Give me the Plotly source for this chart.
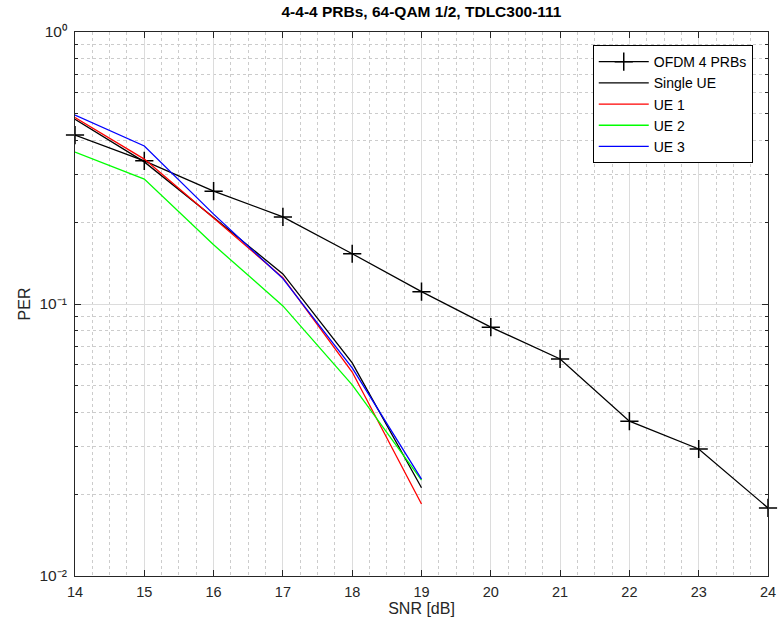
import plotly.graph_objects as go

# SNR grid (dB)
snr_ofdm = [14, 15, 16, 17, 18, 19, 20, 21, 22, 23, 24]
snr_ue = [14, 15, 16, 17, 18, 19]

# Packet error rates
per_ofdm = [0.418, 0.336, 0.260, 0.209, 0.153, 0.111, 0.0822, 0.0628, 0.0371, 0.0293, 0.0178]
per_single = [0.478, 0.333, 0.208, 0.129, 0.0607, 0.0211]
per_ue1 = [0.485, 0.341, 0.207, 0.125, 0.0562, 0.0184]
per_ue2 = [0.362, 0.288, 0.165, 0.0984, 0.0504, 0.0225]
per_ue3 = [0.495, 0.381, 0.214, 0.124, 0.0582, 0.0227]

x_ticks = list(range(14, 25))
y_tickvals = [0.01, 0.1, 1]
y_ticktext = ["10\u207b\u00b2", "10\u207b\u00b9", "10\u2070"]

font = "Liberation Sans, Arial, Helvetica, sans-serif"

fig = go.Figure()
fig.add_trace(go.Scatter(
    x=snr_ofdm, y=per_ofdm, name="OFDM 4 PRBs", mode="lines+markers",
    line=dict(color="black", width=1.3),
    marker=dict(symbol="cross-thin-open", size=13, color="black",
                line=dict(color="black", width=1.5)),
    cliponaxis=False,
))
fig.add_trace(go.Scatter(x=snr_ue, y=per_single, name="Single UE", mode="lines",
                         line=dict(color="black", width=1.3)))
fig.add_trace(go.Scatter(x=snr_ue, y=per_ue1, name="UE 1", mode="lines",
                         line=dict(color="#ff0000", width=1.3)))
fig.add_trace(go.Scatter(x=snr_ue, y=per_ue2, name="UE 2", mode="lines",
                         line=dict(color="#00ff00", width=1.3)))
fig.add_trace(go.Scatter(x=snr_ue, y=per_ue3, name="UE 3", mode="lines",
                         line=dict(color="#0000ff", width=1.3)))

fig.update_layout(
    width=780, height=628,
    margin=dict(l=75, r=12, t=32, b=52, autoexpand=False),
    paper_bgcolor="white", plot_bgcolor="white",
    font=dict(family=font, size=14, color="#262626"),
    title=dict(text="4-4-4 PRBs, 64-QAM 1/2, TDLC300-111",
               x=0.5, xref="paper", y=1, yref="container", yanchor="top",
               pad=dict(t=6), font=dict(size=15.5, color="black", weight="bold")),
    showlegend=True,
    legend=dict(x=0.978, y=0.976, xanchor="right", yanchor="top",
                bgcolor="white", bordercolor="black", borderwidth=1,
                font=dict(size=14, color="black"),
                tracegroupgap=0, itemwidth=50),
    xaxis=dict(
        range=[14, 24], tickmode="array", tickvals=x_ticks,
        tickfont=dict(size=14.5),
        ticklabelstandoff=3,
        title=dict(text="SNR [dB]", font=dict(size=16), standoff=2),
        showline=True, linecolor="#262626", linewidth=1, mirror="ticks",
        ticks="inside", ticklen=6, tickcolor="#262626",
        showgrid=True, gridcolor="#dcdcdc", gridwidth=1,
        minor=dict(dtick=0.25, showgrid=True, gridcolor="#cccccc",
                   griddash="dot", ticks=""),
        zeroline=False,
    ),
    yaxis=dict(
        type="log", range=[-2, 0],
        tickmode="array", tickvals=y_tickvals, ticktext=y_ticktext,
        tickfont=dict(size=15.5),
        ticklabelstandoff=4,
        title=dict(text="PER", font=dict(size=16), standoff=4),
        showline=True, linecolor="#262626", linewidth=1, mirror="ticks",
        ticks="inside", ticklen=6, tickcolor="#262626",
        showgrid=True, gridcolor="#dcdcdc", gridwidth=1,
        minor=dict(tickmode="array",
                   tickvals=[m * 10 ** e for e in (-2, -1) for m in range(2, 10)],
                   showgrid=True, gridcolor="#cccccc", griddash="dot",
                   ticks="inside", ticklen=3, tickcolor="#262626"),
        zeroline=False,
    ),
)

fig.write_html("out.html")
